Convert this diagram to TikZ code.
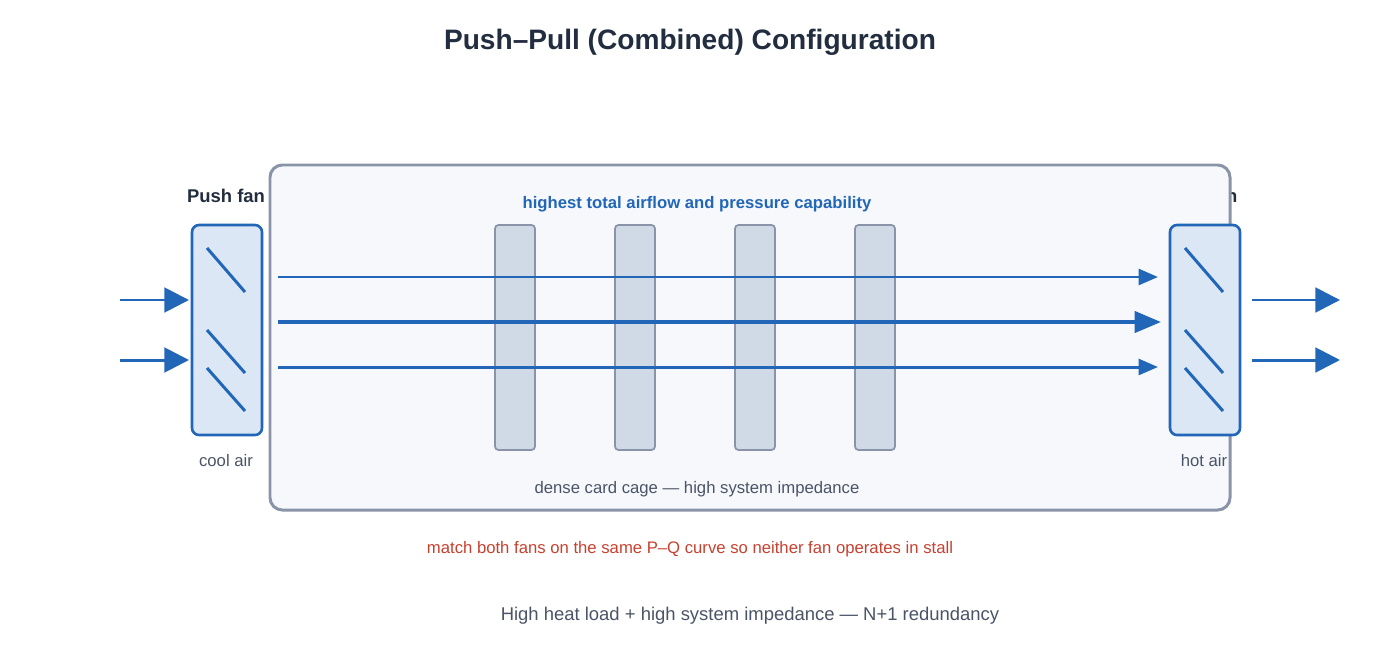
\documentclass[tikz,border=0pt]{standalone}
\usepackage{fontspec}
\setmainfont{Liberation Sans}
\usetikzlibrary{arrows.meta}

\definecolor{flow}{HTML}{2266B8}
\definecolor{fanfill}{HTML}{DCE7F5}
\definecolor{cage}{HTML}{8A94A8}
\definecolor{cagefill}{HTML}{F6F8FC}
\definecolor{cardfill}{HTML}{D0DAE7}
\definecolor{ink}{HTML}{222D40}
\definecolor{note}{HTML}{4A5466}
\definecolor{warn}{HTML}{C8402E}

\tikzset{
  fan/.style={draw=flow, fill=fanfill, line width=1.5pt, rounded corners=4pt},
  card/.style={draw=cage, fill=cardfill, line width=1pt, rounded corners=2pt},
  blade/.style={draw=flow, line width=1.7pt},
  stream/.style={draw=flow, line width=1.7pt, -{Triangle[length=11pt,width=9pt]}},
  mainstream/.style={draw=flow, line width=2.3pt, -{Triangle[length=15pt,width=12pt]}},
  airin/.style={draw=flow, line width=1.7pt, -{Triangle[length=14pt,width=14pt]}},
  label/.style={font=\fontsize{9.5}{11}\selectfont, text=note},
  fanname/.style={font=\bfseries\fontsize{10.5}{12}\selectfont, text=ink}
}

\begin{document}
\begin{tikzpicture}[x=0.02cm, y=-0.02cm]
  \useasboundingbox (0,0) rectangle (1380,660);

  % Title
  \node[font=\bfseries\fontsize{16}{19}\selectfont, text=ink] (title) at (690,42) {Push–Pull (Combined) Configuration};

  % Fan names
  \node[fanname] (pushname) at (226,196) {Push fan};
  \node[fanname] (pullname) at (1204,196) {Pull fan};

  % Card cage
  \draw[draw=cage, fill=cagefill, line width=1.7pt, rounded corners=7pt] (270,165) rectangle (1230,510);
  \node[font=\bfseries\fontsize{9.5}{11}\selectfont, text=flow] (capab) at (697,204) {highest total airflow and pressure capability};
  \node[label] (cagelbl) at (697,489) {dense card cage — high system impedance};

  % Cards
  \foreach \x in {495,615,735,855}
    \draw[card] (\x,225) rectangle ++(40,225);

  % Fans
  \draw[fan] (192,225) rectangle (262,435);
  \draw[fan] (1170,225) rectangle (1240,435);
  \foreach \dx in {0,978}{
    \draw[blade] (207+\dx,248) -- (245+\dx,292);
    \draw[blade] (207+\dx,330) -- (245+\dx,373);
    \draw[blade] (207+\dx,368) -- (245+\dx,411);
  }
  \node[label] (cool) at (226,461) {cool air};
  \node[label] (hot) at (1204,461) {hot air};

  % Airflow
  \coordinate (a1) at (278,277); \coordinate (b1) at (1158,277);
  \coordinate (a2) at (278,322); \coordinate (b2) at (1161,322);
  \coordinate (a3) at (278,367); \coordinate (b3) at (1158,367);
  \draw[stream] (a1) -- (b1);
  \draw[mainstream] (a2) -- (b2);
  \draw[stream] (a3) -- (b3);

  % Inlet / outlet
  \coordinate (i1) at (120,300); \coordinate (j1) at (189,300);
  \coordinate (i2) at (120,360); \coordinate (j2) at (189,360);
  \coordinate (o1) at (1252,300); \coordinate (p1) at (1340,300);
  \coordinate (o2) at (1252,360); \coordinate (p2) at (1340,360);
  \draw[airin] (i1) -- (j1);
  \draw[airin] (i2) -- (j2);
  \draw[airin] (o1) -- (p1);
  \draw[airin] (o2) -- (p2);

  % Notes
  \node[font=\fontsize{9.5}{11}\selectfont, text=warn] (match) at (690,549) {match both fans on the same P–Q curve so neither fan operates in stall};
  \node[font=\fontsize{10.5}{12}\selectfont, text=note] (usecase) at (750,616) {High heat load + high system impedance — N+1 redundancy};

\end{tikzpicture}
\end{document}
